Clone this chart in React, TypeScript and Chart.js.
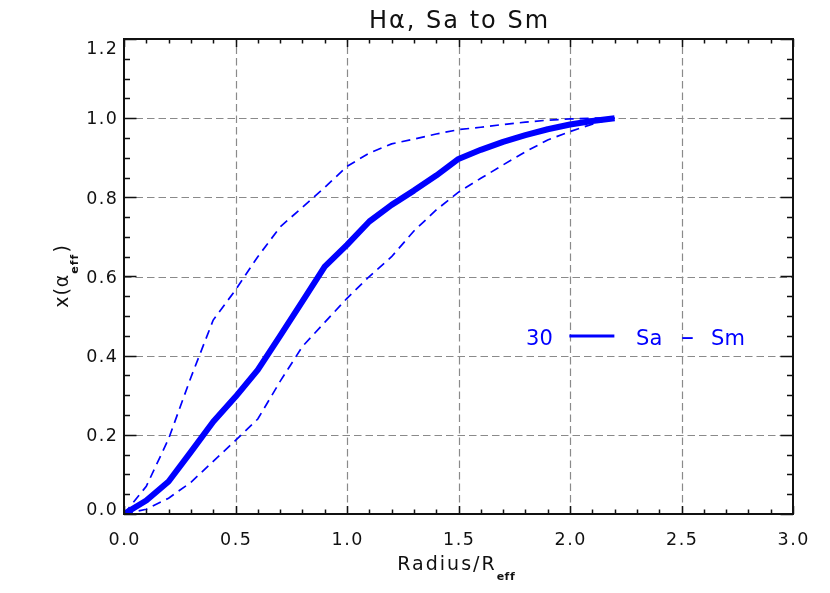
import React, { useEffect, useRef } from 'react';
import { Chart, registerables } from 'chart.js';

Chart.register(...registerables);

// ---- data ----
const radius = [0, 0.1, 0.2, 0.3, 0.4, 0.5, 0.6, 0.7, 0.8, 0.9, 1.0, 1.1, 1.2, 1.3, 1.4, 1.5, 1.6, 1.7, 1.8, 1.9, 2.0, 2.1, 2.2];
const xMedian = [0, 0.034, 0.082, 0.157, 0.233, 0.296, 0.364, 0.45, 0.537, 0.625, 0.68, 0.739, 0.781, 0.817, 0.855, 0.897, 0.92, 0.94, 0.957, 0.972, 0.984, 0.993, 1.0];
const xUpper = [0, 0.07, 0.19, 0.345, 0.49, 0.566, 0.65, 0.725, 0.775, 0.825, 0.878, 0.912, 0.935, 0.947, 0.96, 0.971, 0.977, 0.984, 0.99, 0.995, 0.998, 1.0, 1.0];
const xLower = [0, 0.012, 0.04, 0.08, 0.133, 0.186, 0.24, 0.335, 0.423, 0.484, 0.545, 0.6, 0.65, 0.715, 0.768, 0.813, 0.848, 0.882, 0.915, 0.945, 0.966, 0.985, 1.0];

const xTickLabels = ['0.0', '0.5', '1.0', '1.5', '2.0', '2.5', '3.0'];
const yTickLabels = ['0.0', '0.2', '0.4', '0.6', '0.8', '1.0', '1.2'];
const xMinorStep = 0.1;
const yMinorStep = 0.05;

const titleText = 'Hα, Sa to Sm';
const xTitleMain = 'Radius/R';
const xTitleSub = 'eff';
const yTitleMain = 'x(α';
const yTitleSub = 'eff';
const yTitleEnd = ')';
const legendNumber = '30';
const legendWords = ['Sa', '–', 'Sm'];

const BLUE = '#0000ff';
const INK = '#111111';
const GRID = '#8a8a8a';
const FONT = '"DejaVu Sans", sans-serif';

function withSpacing(ctx: any, spacing: string, fn: () => void) {
  const prev = ctx.letterSpacing;
  try { ctx.letterSpacing = spacing; } catch (e) {}
  fn();
  try { ctx.letterSpacing = prev || '0px'; } catch (e) {}
}

const idlPlugin = {
  id: 'idlFrame',
  beforeDatasetsDraw(chart: any) {
    const { ctx, chartArea: a, scales } = chart;
    const xs = scales.x, ys = scales.y;
    ctx.save();
    ctx.strokeStyle = GRID;
    ctx.lineWidth = 1.2;
    ctx.setLineDash([7.5, 4]);
    xTickLabels.map(parseFloat).forEach((v) => {
      if (v <= xs.min || v >= xs.max) return;
      const px = Math.round(xs.getPixelForValue(v)) + 0.5;
      ctx.beginPath();
      ctx.moveTo(px, a.bottom);
      ctx.lineTo(px, a.top);
      ctx.stroke();
    });
    yTickLabels.map(parseFloat).forEach((v) => {
      if (v <= ys.min || v >= ys.max) return;
      const py = Math.round(ys.getPixelForValue(v)) + 0.5;
      ctx.beginPath();
      ctx.moveTo(a.left, py);
      ctx.lineTo(a.right, py);
      ctx.stroke();
    });
    ctx.restore();
  },
  afterDraw(chart: any) {
    const { ctx, chartArea: a, scales } = chart;
    const xs = scales.x, ys = scales.y;
    ctx.save();
    ctx.setLineDash([]);
    ctx.strokeStyle = INK;

    // ticks
    ctx.lineWidth = 1.5;
    const xMajor = xTickLabels.map(parseFloat);
    const yMajor = yTickLabels.map(parseFloat);
    const isMajor = (v: number, arr: number[]) => arr.some((m) => Math.abs(m - v) < 1e-6);
    const nx = Math.round((xs.max - xs.min) / xMinorStep);
    for (let i = 0; i <= nx; i++) {
      const v = xs.min + i * xMinorStep;
      const len = isMajor(v, xMajor) ? 8 : 4.5;
      const px = Math.round(xs.getPixelForValue(v)) + 0.5;
      ctx.beginPath();
      ctx.moveTo(px, a.bottom); ctx.lineTo(px, a.bottom - len);
      ctx.moveTo(px, a.top); ctx.lineTo(px, a.top + len);
      ctx.stroke();
    }
    const ny = Math.round((ys.max - ys.min) / yMinorStep);
    for (let i = 0; i <= ny; i++) {
      const v = ys.min + i * yMinorStep;
      const len = isMajor(v, yMajor) ? 12.5 : 6;
      const py = Math.round(ys.getPixelForValue(v)) + 0.5;
      ctx.beginPath();
      ctx.moveTo(a.left, py); ctx.lineTo(a.left + len, py);
      ctx.moveTo(a.right, py); ctx.lineTo(a.right - len, py);
      ctx.stroke();
    }

    // frame
    ctx.lineWidth = 2;
    ctx.strokeRect(a.left, a.top, a.right - a.left, a.bottom - a.top);

    // tick labels
    ctx.fillStyle = INK;
    ctx.font = `17.5px ${FONT}`;
    ctx.textBaseline = 'alphabetic';
    withSpacing(ctx, '1.5px', () => {
      ctx.textAlign = 'center';
      xTickLabels.forEach((lab) => {
        const px = xs.getPixelForValue(parseFloat(lab));
        ctx.fillText(lab, px + 0.75, a.bottom + 30.5);
      });
      ctx.textAlign = 'right';
      yTickLabels.forEach((lab) => {
        const py = ys.getPixelForValue(parseFloat(lab));
        const base = Math.min(Math.max(py + 6.2, a.top + 15.4), a.bottom + 1.4);
        ctx.fillText(lab, a.left - 5.5, base);
      });
    });

    const cx = (a.left + a.right) / 2;
    const cy = (a.top + a.bottom) / 2;

    // title
    ctx.textAlign = 'center';
    ctx.font = `24px ${FONT}`;
    withSpacing(ctx, '2px', () => {
      ctx.fillText(titleText, cx + 1, a.top - 11);
    });

    // x title with subscript
    ctx.textAlign = 'left';
    withSpacing(ctx, '2px', () => {
      ctx.font = `19px ${FONT}`;
      const w1 = ctx.measureText(xTitleMain).width;
      ctx.font = `bold 11px ${FONT}`;
      const w2 = ctx.measureText(xTitleSub).width;
      let x0 = cx - (w1 + w2) / 2;
      ctx.font = `19px ${FONT}`;
      ctx.fillText(xTitleMain, x0, a.bottom + 55.5);
      ctx.font = `bold 11px ${FONT}`;
      withSpacing(ctx, '0.5px', () => ctx.fillText(xTitleSub, x0 + w1, a.bottom + 65.5));
    });

    // y title (rotated) with subscript
    ctx.save();
    ctx.translate(a.left - 55.7, cy);
    ctx.rotate(-Math.PI / 2);
    withSpacing(ctx, '1px', () => {
      ctx.font = `19px ${FONT}`;
      const w1 = ctx.measureText(yTitleMain).width;
      const w3 = ctx.measureText(yTitleEnd).width;
      ctx.font = `bold 11px ${FONT}`;
      const w2 = ctx.measureText(yTitleSub).width;
      let x0 = -(w1 + w2 + w3) / 2;
      ctx.font = `19px ${FONT}`;
      ctx.fillText(yTitleMain, x0, 0);
      ctx.font = `bold 11px ${FONT}`;
      ctx.fillText(yTitleSub, x0 + w1, 10);
      ctx.font = `19px ${FONT}`;
      ctx.fillText(yTitleEnd, x0 + w1 + w2 + 1, 0);
    });
    ctx.restore();

    // legend
    const lx = xs.getPixelForValue(1.803);
    const lb = ys.getPixelForValue(0.426);
    ctx.fillStyle = BLUE;
    ctx.strokeStyle = BLUE;
    ctx.font = `21px ${FONT}`;
    ctx.textAlign = 'left';
    ctx.fillText(legendNumber, lx, lb);
    ctx.lineWidth = 3;
    ctx.beginPath();
    ctx.moveTo(lx + 43.3, lb - 9.3);
    ctx.lineTo(lx + 88.3, lb - 9.3);
    ctx.stroke();
    ctx.fillText(legendWords[0], lx + 110, lb);
    ctx.font = `26px ${FONT}`;
    ctx.fillText(legendWords[1], lx + 155, lb - 0.5);
    ctx.font = `21px ${FONT}`;
    ctx.fillText(legendWords[2], lx + 185, lb);

    ctx.restore();
  },
};

export default function App() {
  const ref = useRef<HTMLCanvasElement | null>(null);

  useEffect(() => {
    document.body.style.margin = '0';
    const canvas = ref.current;
    if (!canvas) return;
    const mk = (arr: number[]) => radius.map((r, i) => ({ x: r, y: arr[i] }));
    const chart = new Chart(canvas, {
      type: 'line',
      data: {
        datasets: [
          {
            label: 'upper',
            data: mk(xUpper),
            borderColor: BLUE,
            borderWidth: 1.7,
            borderDash: [9, 6],
            pointRadius: 0,
            tension: 0,
            fill: false,
          },
          {
            label: 'lower',
            data: mk(xLower),
            borderColor: BLUE,
            borderWidth: 1.7,
            borderDash: [9, 6],
            pointRadius: 0,
            tension: 0,
            fill: false,
          },
          {
            label: 'Sa - Sm',
            data: mk(xMedian),
            borderColor: BLUE,
            borderWidth: 6,
            borderJoinStyle: 'round',
            pointRadius: 0,
            tension: 0,
            fill: false,
          },
        ],
      },
      options: {
        responsive: false,
        animation: false,
        devicePixelRatio: 1,
        layout: { padding: { left: 124, right: 37, top: 39, bottom: 79 } },
        plugins: { legend: { display: false }, title: { display: false }, tooltip: { enabled: false } },
        scales: {
          x: { type: 'linear', min: 0, max: 3, display: false },
          y: { type: 'linear', min: 0, max: 1.2, display: false },
        },
        events: [],
      } as any,
      plugins: [idlPlugin],
    });
    return () => chart.destroy();
  }, []);

  return (
    <div style={{ position: 'absolute', left: 0, top: 0, width: 830, height: 593, background: '#fff' }}>
      <canvas ref={ref} width={830} height={593} style={{ display: 'block', width: 830, height: 593 }} />
    </div>
  );
}
